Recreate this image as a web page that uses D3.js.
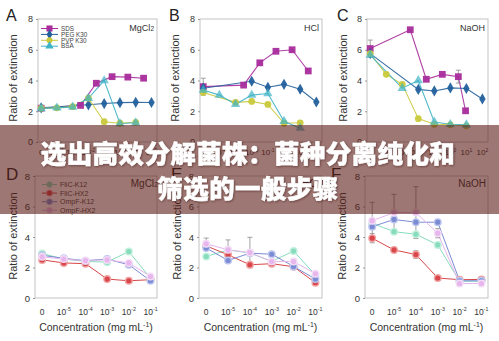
<!DOCTYPE html>
<html>
<head>
<meta charset="utf-8">
<script src="https://cdn.jsdelivr.net/npm/d3@7"></script>
<style>
  html, body { margin: 0; padding: 0; background: #fff; }
  svg { display: block; font-family: "Liberation Sans", Arial, sans-serif; }
</style>
</head>
<body>
<svg id="chart" width="499" height="341"></svg>
<script>
// ---- top row: ratio of extinction vs. additive concentration (log-decade index, 0 = none) ----
const topTickExp = ["", "-4", "-3", "-2", "-1", "0", "1", "2"];
const topNames = ["SDS", "PEG K30", "PVP K30", "BSA"];
const sdsX = [0, 2.5, 3.5, 4.5, 5.5, 6.5];
const sdsXC = [0, 2.5, 3.5, 4.5, 5.5, 5.95];
const pegX = [0, 3, 4, 5, 6, 7];
const pvpX = [0, 1, 2, 3, 4, 5, 6];
const bsaX = [0, 1, 2, 3, 4, 5, 6];

// MgCl2
const sdsA = [2.2, 2.38, 3.82, 4.25, 4.22, 4.15];
const pegA = [2.22, 2.42, 2.5, 2.56, 2.58, 2.57];
const pvpA = [2.2, 2.22, 2.3, 2.85, 1.32, 1.22, 1.28];
const bsaA = [2.18, 2.22, 2.28, 2.85, 3.99, 1.2, 1.25];
// HCl
const sdsB = [3.6, 3.7, 5.15, 5.9, 6.0, 4.62];
const pegB = [3.5, 3.95, 3.56, 3.75, 3.43, 2.6];
const pvpB = [3.22, null, 2.58, 2.64, 2.44, 1.22, 1.25];
const bsaB = [3.38, 3.05, 2.45, 3.05, 3.15, 1.35, 0.9];
const sdsErrB = [0.55, 0, 0, 0, 0, 0];
// NaOH
const sdsC = [6.08, 7.3, 4.08, 4.4, 4.25, 2.03];
const pegC = [5.75, 3.42, 3.32, 3.52, 3.48, 2.8];
const pvpC = [5.75, 4.4, 3.75, 1.52, 1.15, 1.12, 1.05];
const bsaC = [5.65, null, 3.5, 4.0, 1.3, 1.15, 1.12];
const sdsErrC = [0.55, 0, 0, 0, 0.42, 0];

// ---- bottom row: protein additives ----
const bottomTickExp = ["", "-5", "-4", "-3", "-2", "-1"];
const bottomNames = ["FliC-K12", "FliC-HX2", "OmpF-K12", "OmpF-HX2"];
const bottomX = [0, 1, 2, 3, 4, 5];

const fliK12D = [2.92, 2.55, 2.4, 2.35, 3.05, 1.3];
const fliHX2D = [2.5, 2.3, 2.25, 1.24, 1.13, 1.2];
const ompK12D = [2.8, 2.6, 2.45, 2.55, 2.18, 1.13];
const ompHX2D = [2.7, 2.55, 2.45, 2.5, 2.3, 1.41];

const fliK12E = [2.72, 3.15, 2.95, 2.4, 3.08, 1.5];
const fliHX2E = [3.42, 2.83, 2.18, 2.25, 2.05, 1.0];
const ompK12E = [3.28, 2.46, 2.94, 2.87, 2.07, 1.24];
const ompHX2E = [3.55, 3.16, 2.98, 2.39, 2.39, 1.59];
const ompHX2ErrE = [0.38, 0.65, 1.0, 0, 0, 0];

const fliK12F = [4.9, 4.35, 4.18, 3.48, 1.1, 1.1];
const fliHX2F = [3.92, 3.15, 2.85, 1.31, 1.2, 1.22];
const ompK12F = [4.68, 5.15, 4.97, 4.97, 1.13, 1.13];
const ompHX2F = [5.07, 5.6, 5.6, 4.25, 0.95, 0.95];
const fliHX2ErrF = [0.3, 0, 0.25, 0, 0, 0];
const ompHX2ErrF = [1.2, 1.2, 1.7, 0.3, 0, 0];

const headline = ["选出高效分解菌株：菌种分离纯化和", "筛选的一般步骤"];

// ---- styling ----
const topColors = { "SDS": "#a82c9c", "PEG K30": "#22609c", "PVP K30": "#c9c93c", "BSA": "#3fb3c6" };
const topShapes = { "SDS": d3.symbolSquare, "PEG K30": d3.symbolDiamond, "PVP K30": d3.symbolCircle, "BSA": d3.symbolTriangle };
const topSizes = { "SDS": 46, "PEG K30": 36, "PVP K30": 36, "BSA": 38 };
const bottomColors = { "FliC-K12": "#86dcbc", "FliC-HX2": "#d7474b", "OmpF-K12": "#7b8cd4", "OmpF-HX2": "#e6b6ec" };
const bottomHalo = { "FliC-K12": "#c4f0de", "FliC-HX2": "#f2a4a4", "OmpF-K12": "#bcc6ee", "OmpF-HX2": "#f4dcf6" };

const svg = d3.select("#chart");

function tickText(g, x, y, exp, size) {
  const t = g.append("text").attr("x", x).attr("y", y)
    .attr("text-anchor", "middle").attr("font-size", size).attr("fill", "#333");
  if (exp === "") { t.text("0"); return; }
  t.append("tspan").text("10");
  t.append("tspan").attr("dy", -size * 0.42).attr("font-size", size * 0.62).text(exp);
}

function frameAndAxis(g, x, y, f, yLabelFs, yTitleX, yTitleY) {
  g.append("rect").attr("x", f.left).attr("y", f.top)
    .attr("width", f.right - f.left).attr("height", f.bottom - f.top)
    .attr("fill", "none").attr("stroke", "#b4b4b4").attr("stroke-width", 0.8);
  const ax = g.append("g").attr("transform", `translate(${f.left},0)`)
    .call(d3.axisLeft(y).tickValues([0, 2, 4, 6, 8]).tickSize(2).tickPadding(3).tickFormat(d3.format("d")));
  ax.select(".domain").remove();
  ax.selectAll("line").attr("stroke", "#999");
  ax.selectAll("text").attr("font-size", yLabelFs).attr("fill", "#333")
    .attr("font-family", "Liberation Sans, Arial, sans-serif");
  g.append("text").attr("transform", `translate(${yTitleX},${yTitleY}) rotate(-90)`)
    .attr("text-anchor", "middle").attr("font-size", 11).attr("fill", "#333")
    .text("Ratio of extinction");
}

function errorBars(g, xs, vals, errs, x, y) {
  xs.forEach((xv, i) => {
    const e = errs[i];
    if (!e || vals[i] == null) return;
    const cx = x(xv);
    g.append("line").attr("x1", cx).attr("x2", cx).attr("y1", y(vals[i] - e)).attr("y2", y(vals[i] + e))
      .attr("stroke", "#8a8a8a").attr("stroke-width", 0.8);
    [vals[i] - e, vals[i] + e].forEach(v => {
      g.append("line").attr("x1", cx - 2.5).attr("x2", cx + 2.5).attr("y1", y(v)).attr("y2", y(v))
        .attr("stroke", "#8a8a8a").attr("stroke-width", 0.8);
    });
  });
}

function topPanel(p) {
  const g = svg.append("g");
  const x = d3.scaleLinear().domain([-0.2, 7.35]).range([p.left, p.right]);
  const y = d3.scaleLinear().domain([0, 8]).range([p.bottom, p.top]);
  frameAndAxis(g, x, y, p, 9, p.yTitleX, 78);
  topTickExp.forEach((e, i) => tickText(g, x(i), 155, e, 8));

  g.append("text").attr("x", p.letterX).attr("y", 21).attr("font-size", 16).attr("fill", "#222").text(p.letter);
  const cond = g.append("text").attr("x", p.right - 3).attr("y", 31).attr("text-anchor", "end")
    .attr("font-size", 9).attr("fill", "#333").text(p.cond[0]);
  if (p.cond[1]) cond.append("tspan").attr("font-size", 6.5).text(p.cond[1]);

  const line = d3.line().x(d => x(d[0])).y(d => y(d[1]));
  const series = [
    ["SDS", p.sdsX, p.sds], ["PEG K30", pegX, p.peg], ["PVP K30", pvpX, p.pvp], ["BSA", bsaX, p.bsa]
  ];
  series.forEach(([name, xs, vals]) => {
    const pts = xs.map((xv, i) => [xv, vals[i]]).filter(d => d[1] != null);
    g.append("path").datum(pts).attr("d", line).attr("fill", "none")
      .attr("stroke", topColors[name]).attr("stroke-width", 1.1).attr("opacity", 0.9);
  });
  if (p.sdsErr) errorBars(g, p.sdsX, p.sds, p.sdsErr, x, y);
  series.forEach(([name, xs, vals]) => {
    const pts = xs.map((xv, i) => [xv, vals[i]]).filter(d => d[1] != null);
    g.selectAll(null).data(pts).enter().append("path")
      .attr("transform", d => `translate(${x(d[0])},${y(d[1])})`)
      .attr("d", d3.symbol().type(topShapes[name]).size(topSizes[name]))
      .attr("fill", topColors[name]).attr("opacity", name === "BSA" ? 0.7 : 0.95);
  });

  if (p.legend) {
    topNames.forEach((name, i) => {
      const ly = 28.5 + i * 5.9;
      g.append("line").attr("x1", 41).attr("x2", 58).attr("y1", ly).attr("y2", ly)
        .attr("stroke", topColors[name]).attr("stroke-width", 1);
      g.append("path").attr("transform", `translate(49.5,${ly})`)
        .attr("d", d3.symbol().type(topShapes[name]).size(topSizes[name] * 0.8))
        .attr("fill", topColors[name]);
      g.append("text").attr("x", 61).attr("y", ly + 2.2).attr("font-size", 6.3).attr("fill", "#444").text(name);
    });
  }
}

function bottomPanel(p) {
  const g = svg.append("g");
  const x = d3.scaleLinear().domain([-0.33, 5.3]).range([p.left, p.right]);
  const y = d3.scaleLinear().domain([0, 8]).range([p.bottom, p.top]);
  frameAndAxis(g, x, y, p, 9.5, p.yTitleX, 236);
  bottomTickExp.forEach((e, i) => tickText(g, x(i), 315, e, 8.5));
  g.append("text").attr("x", (p.left + p.right) / 2).attr("y", 330.5).attr("text-anchor", "middle")
    .attr("font-size", 10.5).attr("fill", "#333")
    .call(t => {
      t.append("tspan").text("Concentration (mg mL");
      t.append("tspan").attr("dy", -4).attr("font-size", 7).text("-1");
      t.append("tspan").attr("dy", 4).text(")");
    });

  g.append("text").attr("x", p.letterX).attr("y", 180).attr("font-size", 17).attr("fill", "#222").text(p.letter);
  const cond = g.append("text").attr("x", p.condX).attr("y", 187).attr("text-anchor", "end")
    .attr("font-size", 10).attr("fill", "#333").text(p.cond[0]);
  if (p.cond[1]) cond.append("tspan").attr("font-size", 7).text(p.cond[1]);

  const line = d3.line().x(d => x(d[0])).y(d => y(d[1]));
  const series = [["FliC-K12", p.a], ["FliC-HX2", p.b], ["OmpF-K12", p.c], ["OmpF-HX2", p.d]];
  series.forEach(([name, vals]) => {
    g.append("path").datum(bottomX.map((xv, i) => [xv, vals[i]])).attr("d", line)
      .attr("fill", "none").attr("stroke", bottomColors[name]).attr("stroke-width", 1);
  });
  if (p.errs) p.errs.forEach(([vals, errs]) => errorBars(g, bottomX, vals, errs, x, y));
  series.forEach(([name, vals]) => {
    g.selectAll(null).data(bottomX.map((xv, i) => [xv, vals[i]])).enter().append("circle")
      .attr("cx", d => x(d[0])).attr("cy", d => y(d[1])).attr("r", 3.3)
      .attr("fill", bottomColors[name]).attr("stroke", bottomHalo[name]).attr("stroke-width", 1.4);
  });

  if (p.legend) {
    bottomNames.forEach((name, i) => {
      const ly = 184.5 + i * 8.6;
      g.append("line").attr("x1", 42).attr("x2", 57).attr("y1", ly).attr("y2", ly)
        .attr("stroke", bottomColors[name]).attr("stroke-width", 1);
      g.append("circle").attr("cx", 49.5).attr("cy", ly).attr("r", 3)
        .attr("fill", bottomColors[name]).attr("stroke", bottomHalo[name]).attr("stroke-width", 1);
      g.append("text").attr("x", 60).attr("y", ly + 2.5).attr("font-size", 7).attr("fill", "#444").text(name);
    });
  }
}

topPanel({ left: 38, right: 157, top: 19, bottom: 142, letter: "A", letterX: 6, yTitleX: 17,
  cond: ["MgCl", "2"], sdsX: sdsX, sds: sdsA, peg: pegA, pvp: pvpA, bsa: bsaA, legend: true });
topPanel({ left: 200, right: 322, top: 19, bottom: 142, letter: "B", letterX: 169, yTitleX: 179,
  cond: ["HCl"], sdsX: sdsX, sds: sdsB, peg: pegB, pvp: pvpB, bsa: bsaB, sdsErr: sdsErrB });
topPanel({ left: 367, right: 488, top: 19, bottom: 142, letter: "C", letterX: 337, yTitleX: 347,
  cond: ["NaOH"], sdsX: sdsXC, sds: sdsC, peg: pegC, pvp: pvpC, bsa: bsaC, sdsErr: sdsErrC });

bottomPanel({ left: 35, right: 157, top: 176, bottom: 298, letter: "D", letterX: 6, yTitleX: 17, condX: 158,
  cond: ["MgCl", "2"], a: fliK12D, b: fliHX2D, c: ompK12D, d: ompHX2D, legend: true });
bottomPanel({ left: 199, right: 322, top: 176, bottom: 298, letter: "E", letterX: 171, yTitleX: 181, condX: 319,
  cond: ["HCl"], a: fliK12E, b: fliHX2E, c: ompK12E, d: ompHX2E, errs: [[ompHX2E, ompHX2ErrE]] });
bottomPanel({ left: 365, right: 488, top: 176, bottom: 298, letter: "F", letterX: 331, yTitleX: 346, condX: 486,
  cond: ["NaOH"], a: fliK12F, b: fliHX2F, c: ompK12F, d: ompHX2F,
  errs: [[fliHX2F, fliHX2ErrF], [ompHX2F, ompHX2ErrF]] });

// ---- title banner across the middle ----
const defs = svg.append("defs");
const sh = defs.append("filter").attr("id", "txtShadow").attr("x", "-5%").attr("y", "-20%").attr("width", "110%").attr("height", "140%");
sh.append("feDropShadow").attr("dx", 0.8).attr("dy", 0.8).attr("stdDeviation", 0.8)
  .attr("flood-color", "#3a1010").attr("flood-opacity", 0.55);

svg.append("rect").attr("x", 0).attr("y", 125).attr("width", 499).attr("height", 89)
  .attr("fill", "rgb(92,28,22)").attr("fill-opacity", 0.6);
headline.forEach((line, i) => {
  svg.append("text").attr("x", 248).attr("y", 163 + i * 35).attr("text-anchor", "middle")
    .attr("font-family", "'Noto Sans CJK SC', sans-serif").attr("font-weight", 900)
    .attr("font-size", 25.5).attr("letter-spacing", 0.4).attr("fill", "#fff")
    .attr("stroke", "#fff").attr("stroke-width", 0.4)
    .attr("filter", "url(#txtShadow)").text(line);
});
</script>
</body>
</html>
